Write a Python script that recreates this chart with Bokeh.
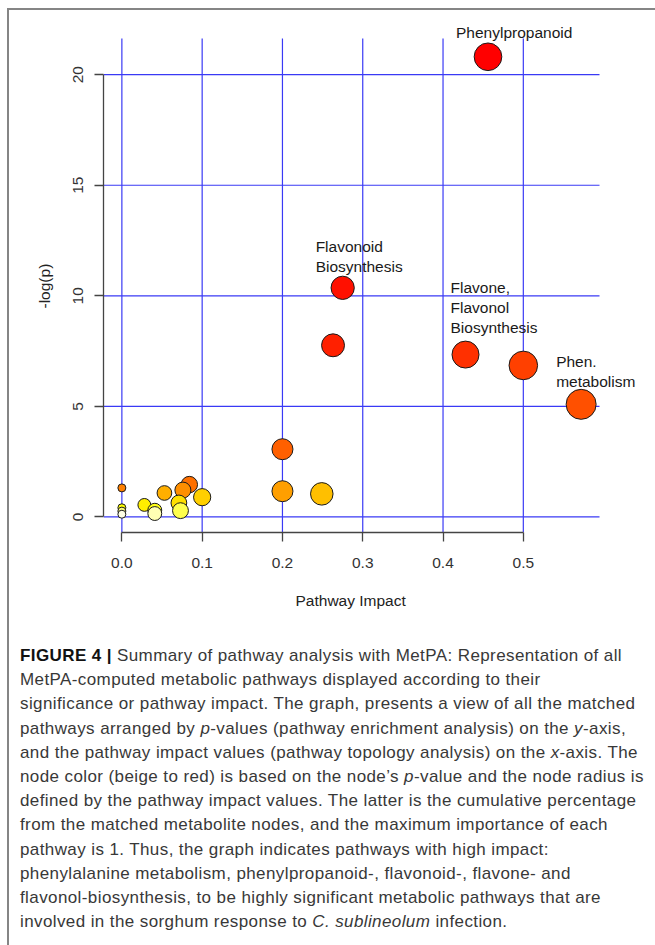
import colorsys
import numpy as np
from bokeh.plotting import figure
from bokeh.models import ColumnDataSource, LabelSet, Range1d, FixedTicker, Div, Title
from bokeh.layouts import column
from bokeh.core.properties import value
from bokeh.embed import file_html
from bokeh.resources import INLINE

# Pathway impact (x) and -log(p) (y) for every matched pathway
impact = [0.456, 0.275, 0.263, 0.428, 0.500, 0.572, 0.200, 0.084, 0.000,
          0.076, 0.200, 0.053, 0.249, 0.100, 0.071, 0.028, 0.000, 0.041,
          0.000, 0.073, 0.041, 0.000]
neglogp = [20.81, 10.36, 7.76, 7.34, 6.85, 5.09, 3.06, 1.46, 1.31,
           1.21, 1.16, 1.08, 1.04, 0.89, 0.63, 0.54, 0.41, 0.30,
           0.26, 0.28, 0.15, 0.12]

# Named pathways: label text and the index of the node it belongs to
label_text = ["Phenylpropanoid", "Flavonoid\nBiosynthesis",
              "Flavone,\nFlavonol\nBiosynthesis", "Phen.\nmetabolism"]
label_node = [0, 1, 3, 5]

x_ticks = [0.0, 0.1, 0.2, 0.3, 0.4, 0.5]
y_ticks = [0, 5, 10, 15, 20]

caption_lines = [
    "<b style='color:#111'>FIGURE 4 |</b> Summary of pathway analysis with MetPA: Representation of all",
    "MetPA-computed metabolic pathways displayed according to their",
    "significance or pathway impact. The graph, presents a view of all the matched",
    "pathways arranged by <i>p</i>-values (pathway enrichment analysis) on the <i>y</i>-axis,",
    "and the pathway impact values (pathway topology analysis) on the <i>x</i>-axis. The",
    "node color (beige to red) is based on the node\u2019s <i>p</i>-value and the node radius is",
    "defined by the pathway impact values. The latter is the cumulative percentage",
    "from the matched metabolite nodes, and the maximum importance of each",
    "pathway is 1. Thus, the graph indicates pathways with high impact:",
    "phenylalanine metabolism, phenylpropanoid-, flavonoid-, flavone- and",
    "flavonol-biosynthesis, to be highly significant metabolic pathways that are",
    "involved in the sorghum response to <i>C. sublineolum</i> infection.",
]


def heat_colors(n):
    """R-style heat.colors(n): red -> orange -> yellow -> pale yellow."""
    j = n // 4
    i = n - j
    cols = [colorsys.hsv_to_rgb(h, 1, 1) for h in np.linspace(0, 1 / 6, i)]
    if j > 0:
        cols += [colorsys.hsv_to_rgb(1 / 6, s, 1)
                 for s in np.linspace(1 - 1 / (2 * j), 1 / (2 * j), j)]
    return ["#%02x%02x%02x" % tuple(int(round(c * 255)) for c in col) for col in cols]


x = np.array(impact)
y = np.array(neglogp)
n = len(x)

# colour by significance rank (most significant = red)
order = np.argsort(-y, kind="stable")
palette = heat_colors(n)
colors = [None] * n
for rank, idx in enumerate(order):
    colors[idx] = palette[rank]

# node radius grows with pathway impact
diam = 2 * (4 + 11 * np.sqrt(x / x.max()))

# least significant nodes are drawn last so they sit on top
src = ColumnDataSource(dict(x=x[order], y=y[order], c=[colors[i] for i in order],
                            d=diam[order]))

# plotting region: data range padded by 4 % on both axes
xlim = (x.min() - 0.04 * np.ptp(x), x.max() + 0.04 * np.ptp(x))
ylim = (y.min() - 0.04 * np.ptp(y), y.max() + 0.04 * np.ptp(y))

FONT = "Liberation Sans"
W, H1, H2 = 646, 622, 313
LEFT, BOTTOM = 94, 100
REGION_W, REGION_H = 496, 494          # pixel size of the padded region
FRAME_W, FRAME_H = W - LEFT, H1 - BOTTOM
# the frame runs on to the canvas edges so the pathway names have room
x_end = xlim[0] + (xlim[1] - xlim[0]) * FRAME_W / REGION_W
y_end = ylim[0] + (ylim[1] - ylim[0]) * FRAME_H / REGION_H

p = figure(width=W, height=H1, output_backend="svg", toolbar_location=None,
           x_range=Range1d(xlim[0], x_end), y_range=Range1d(ylim[0], y_end),
           min_border_left=LEFT, min_border_right=0,
           min_border_top=0, min_border_bottom=BOTTOM)
p.outline_line_color = None
p.xgrid.visible = False
p.ygrid.visible = False

# blue reference lines across the padded region
BLUE = "#3a3af5"
p.segment(x0=x_ticks, y0=[ylim[0]] * len(x_ticks), x1=x_ticks, y1=[ylim[1]] * len(x_ticks),
          line_color=BLUE, line_width=1.2)
p.segment(x0=[xlim[0]] * len(y_ticks), y0=y_ticks, x1=[xlim[1]] * len(y_ticks), y1=y_ticks,
          line_color=BLUE, line_width=1.2)

for ax in (p.xaxis, p.yaxis):
    ax.axis_line_color = "#444444"
    ax.axis_line_width = 1.3
    ax.major_tick_line_color = "#444444"
    ax.major_tick_line_width = 1.3
    ax.major_tick_out = 9
    ax.major_tick_in = 0
    ax.minor_tick_line_color = None
    ax.major_label_text_font = FONT
    ax.major_label_text_font_size = "15.5px"
    ax.major_label_text_color = "#333333"

p.xaxis.ticker = FixedTicker(ticks=x_ticks)
p.yaxis.ticker = FixedTicker(ticks=y_ticks)
p.xaxis.bounds = (x_ticks[0], x_ticks[-1])
p.yaxis.bounds = (y_ticks[0], y_ticks[-1])
p.xaxis.major_label_overrides = {t: "%.1f" % t for t in x_ticks}
p.yaxis.major_label_orientation = "vertical"
p.xaxis.major_label_standoff = 16
p.yaxis.major_label_standoff = 11

# axis titles, centred on the padded region rather than the whole frame
x_title = "Pathway Impact"
y_title = "-log(p)"
p.add_layout(Title(text=x_title, align="left", offset=192, standoff=38,
                   text_font=FONT, text_font_size="15.5px",
                   text_font_style="normal", text_color="#222222"), "below")
p.add_layout(Title(text=y_title, align="left", offset=224, standoff=36,
                   text_font=FONT, text_font_size="15.5px",
                   text_font_style="normal", text_color="#222222"), "left")

p.scatter("x", "y", source=src, size="d", fill_color="c",
          line_color="#1a1a1a", line_width=1)

# pathway names beside their nodes
lab_src = ColumnDataSource(dict(
    x=[impact[i] for i in label_node],
    y=[neglogp[i] for i in label_node],
    t=label_text,
    dx=[-32, -27, -15, -25],
    dy=[33, 50, 76, 51],
))
p.add_layout(LabelSet(x="x", y="y", text="t", source=lab_src,
                      x_offset="dx", y_offset="dy",
                      text_align="left", text_baseline="top",
                      text_font=value(FONT), text_font_size="15.5px",
                      text_color="#1a1a1a", text_line_height=1.18))

cap_html = (
    "<div style='position:relative;width:%dpx;height:%dpx;overflow:hidden;'>" % (W, H2)
    + "<div style='position:absolute;left:11px;top:12px;font-family:\"Liberation Sans\";"
      "font-size:17px;letter-spacing:0.4px;line-height:24.2px;color:#383838;white-space:nowrap;'>"
    + "<br>".join(caption_lines)
    + "</div></div>"
)
cap = Div(text=cap_html, width=W, height=H2, styles={"margin": "0", "padding": "0"})

# framed panel: grey rule along the top and left edge
layout = column(p, cap, spacing=0, margin=(8, 0, 0, 7),
                styles={"border-left": "2px solid #858585",
                        "border-top": "2px solid #858585"})
open("out.html", "w").write(file_html(layout, INLINE))
